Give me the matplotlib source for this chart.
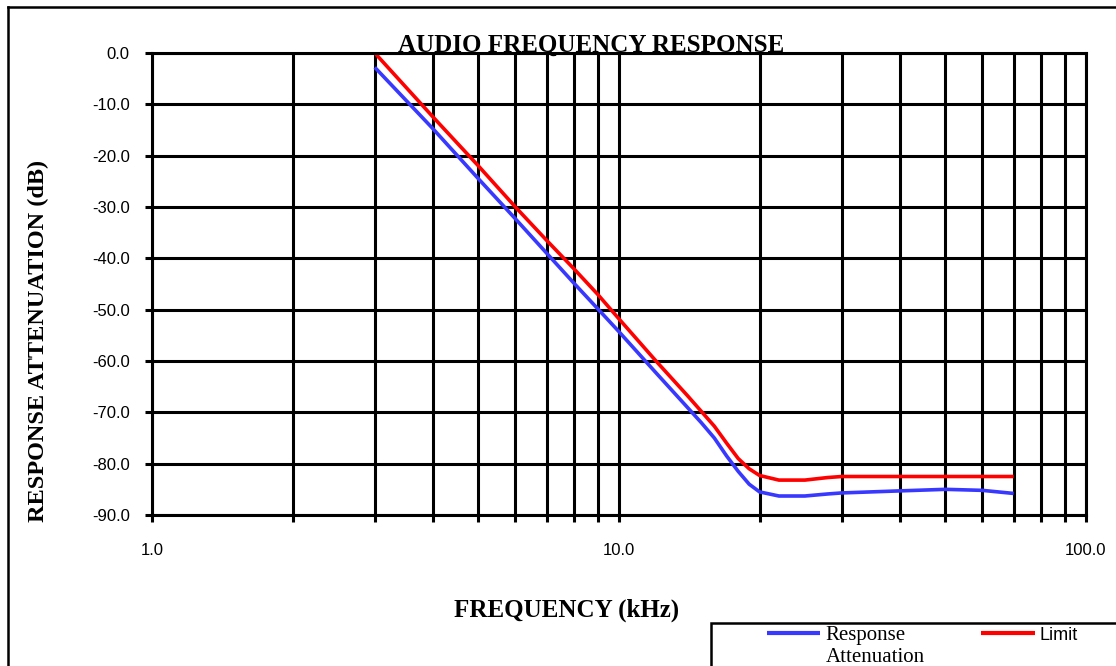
import matplotlib
matplotlib.use('Agg')
import matplotlib.pyplot as plt
from matplotlib.patches import Rectangle
from matplotlib.lines import Line2D
from matplotlib.ticker import FixedLocator, NullFormatter, FormatStrFormatter

# frequency points (kHz) and measured attenuation (dB)
freq = [3, 4, 5, 6, 7, 8, 9, 10, 12, 14, 15, 16, 17, 18, 19, 20, 22, 25, 28, 30, 40, 50, 60, 70]
response = [-2.8, -14.8, -24.5, -32.3, -39.0, -44.8, -49.8, -54.3, -62.3, -69.0, -72.0, -75.0,
            -78.5, -81.5, -84.0, -85.5, -86.3, -86.3, -85.9, -85.7, -85.3, -85.0, -85.2, -85.8]
limit = [0.0, -12.5, -22.0, -30.0, -36.5, -42.0, -47.0, -51.8, -60.0, -66.7, -69.8, -72.7,
         -76.0, -79.0, -81.0, -82.3, -83.2, -83.2, -82.7, -82.5, -82.5, -82.5, -82.5, -82.5]

xmajor = [1, 10, 100]
xminor = [2, 3, 4, 5, 6, 7, 8, 9, 20, 30, 40, 50, 60, 70, 80, 90]
yticks = [0, -10, -20, -30, -40, -50, -60, -70, -80, -90]

W, H = 1116, 666
fig = plt.figure(figsize=(W / 100, H / 100), dpi=100)
ax = fig.add_axes([152 / W, 1 - 515 / H, (1086 - 152) / W, (515 - 53) / H])

ax.plot(freq, response, color='#3838ff', lw=2.6, label='Response', solid_capstyle='butt')
ax.plot(freq, limit, color='#ff0000', lw=2.6, label='Limit', solid_capstyle='butt')

ax.set_xscale('log')
ax.set_xlim(1, 100)
ax.set_ylim(-90, 0)
ax.xaxis.set_major_locator(FixedLocator(xmajor))
ax.xaxis.set_minor_locator(FixedLocator(xminor))
ax.xaxis.set_major_formatter(FormatStrFormatter('%.1f'))
ax.xaxis.set_minor_formatter(NullFormatter())
ax.yaxis.set_major_locator(FixedLocator(yticks))
ax.yaxis.set_major_formatter(FormatStrFormatter('%.1f'))

ax.grid(True, which='both', color='black', lw=2.2)
ax.set_axisbelow(True)
for s in ax.spines.values():
    s.set_linewidth(2.2)
ax.tick_params(which='both', direction='out', length=5, width=2.2, color='black')
ax.tick_params(axis='x', which='major', pad=15)
ax.tick_params(axis='y', pad=11)
for lab in ax.get_xticklabels() + ax.get_yticklabels():
    lab.set_fontfamily('Liberation Sans')
    lab.set_fontsize(12)

serif_bold = dict(family='Liberation Serif', weight='bold')
fig.text(591 / W, 1 - 45 / H, 'AUDIO FREQUENCY RESPONSE', ha='center', va='center',
         fontsize=18, **serif_bold)
fig.text(567 / W, 1 - 610 / H, 'FREQUENCY (kHz)', ha='center', va='center',
         fontsize=18, **serif_bold)
fig.text(38 / W, 1 - 341 / H, 'RESPONSE ATTENUATION (dB)', ha='center', va='center',
         rotation=90, fontsize=17.5, **serif_bold)

# outer chart border (left and top edges)
fig.add_artist(Line2D([8 / W, 8 / W], [-0.1, 1 - 7 / H], color='black', lw=1.8,
                      transform=fig.transFigure))
fig.add_artist(Line2D([8 / W, 1.1], [1 - 7 / H, 1 - 7 / H], color='black', lw=1.8,
                      transform=fig.transFigure))

# legend box
fig.add_artist(Rectangle((711 / W, -0.2), 1.0, 0.2 + 1 - 623 / H, fill=False,
                         edgecolor='black', lw=1.8, transform=fig.transFigure))
leg = ax.legend(loc='upper left', bbox_to_anchor=(767 / W, 1 - 626 / H),
                bbox_transform=fig.transFigure, ncol=2, frameon=False,
                handlelength=2.75, handletextpad=0.25, columnspacing=3.9,
                borderpad=0, borderaxespad=0, prop={'size': 14})
for line in leg.get_lines():
    line.set_linewidth(3)
texts = leg.get_texts()
texts[0].set_fontfamily('Liberation Serif')
texts[0].set_fontsize(15)
texts[1].set_fontfamily('Liberation Sans')
texts[1].set_fontsize(13)

# second line of the response label, set under the first
fig.canvas.draw()
bb = texts[0].get_window_extent().transformed(fig.transFigure.inverted())
fig.text(bb.x0, bb.y0 - 22 / H, 'Attenuation', ha='left', va='bottom',
         family='Liberation Serif', fontsize=15)

fig.savefig('out.png', dpi=100)
